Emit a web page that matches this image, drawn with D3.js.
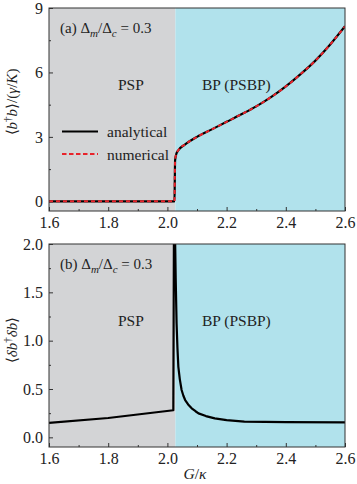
<!doctype html>
<html>
<head>
<meta charset="utf-8">
<title>phase diagram</title>
<style>
  body { margin: 0; background: #fff; }
  svg text { font-family: "Liberation Serif", "Times New Roman", serif; fill: #222; }
</style>
</head>
<body>
<div id="here"></div>
<script src="https://d3js.org/d3.v7.min.js"></script>
<script>
// ---- data ----
var gKappa = [1.6, 1.8, 2.0, 2.024, 2.025, 2.026, 2.03, 2.037, 2.06, 2.1, 2.15, 2.2, 2.25, 2.3, 2.35, 2.4, 2.45, 2.5, 2.55, 2.6];
var analytical = [0, 0, 0, 0, 1.0, 1.9, 2.2, 2.38, 2.65, 3.0, 3.35, 3.7, 4.05, 4.42, 4.85, 5.35, 5.92, 6.55, 7.3, 8.15];
var gKappaNum = [1.6, 1.7, 1.8, 1.9, 2.0, 2.024, 2.025, 2.026, 2.03, 2.037, 2.06, 2.1, 2.15, 2.2, 2.25, 2.3, 2.35, 2.4, 2.45, 2.5, 2.55, 2.6];
var numerical = [0, 0, 0, 0, 0, 0, 1.0, 1.9, 2.2, 2.38, 2.65, 3.0, 3.35, 3.7, 4.05, 4.42, 4.85, 5.35, 5.92, 6.55, 7.3, 8.15];

var gKappaFl = [1.6, 1.8, 2.02, 2.0225, 2.026, 2.028, 2.031, 2.034, 2.037, 2.042, 2.048, 2.054, 2.06, 2.07, 2.082, 2.095, 2.105, 2.13, 2.16, 2.2, 2.26, 2.33, 2.4, 2.6];
var fluct = [0.15, 0.2, 0.28, 2.5, 2.05, 1.65, 1.18, 0.92, 0.73, 0.6, 0.49, 0.43, 0.386, 0.34, 0.30, 0.27, 0.248, 0.22, 0.196, 0.178, 0.163, 0.159, 0.157, 0.155];

var phaseEdges = [1.6, 2.027, 2.6];
var phaseNames = ["PSP", "BP (PSBP)"];
var phaseColors = ["#d3d4d6", "#b1e2ec"];

var xTicks = [1.6, 1.8, 2.0, 2.2, 2.4, 2.6];
var xMinor = [1.7, 1.9, 2.1, 2.3, 2.5];
var yTicksA = [0, 3, 6, 9];
var yMinorA = [1.5, 4.5, 7.5];
var yTicksB = [0, 0.5, 1.0, 1.5, 2.0];
var yMinorB = [0.25, 0.75, 1.25, 1.75];

var W = 357, H = 484;
var left = 49, right = 345;

var svg = d3.select("#here").append("svg")
  .attr("width", W).attr("height", H);

var x = d3.scaleLinear().domain([1.6, 2.6]).range([left, right]);

function panel(top, bottom, ydom, yTicks, yMinor, fmt, id) {
  var y = d3.scaleLinear().domain(ydom).range([bottom, top]);
  var g = svg.append("g");

  // phase backgrounds
  g.selectAll("rect.phase")
    .data(phaseNames)
    .enter().append("rect")
    .attr("x", function(d, i) { return x(phaseEdges[i]); })
    .attr("width", function(d, i) { return x(phaseEdges[i + 1]) - x(phaseEdges[i]); })
    .attr("y", top).attr("height", bottom - top)
    .attr("fill", function(d, i) { return phaseColors[i]; });

  g.append("clipPath").attr("id", id)
    .append("rect").attr("x", left).attr("y", top)
    .attr("width", right - left).attr("height", bottom - top);

  // axes (ticks inward)
  var xa = g.append("g").attr("transform", "translate(0," + bottom + ")")
    .call(d3.axisBottom(x).tickValues(xTicks).tickSize(-4).tickPadding(6).tickFormat(d3.format(".1f")));
  var xm = g.append("g").attr("transform", "translate(0," + bottom + ")")
    .call(d3.axisBottom(x).tickValues(xMinor).tickSize(-2).tickFormat(""));
  var ya = g.append("g").attr("transform", "translate(" + left + ",0)")
    .call(d3.axisLeft(y).tickValues(yTicks).tickSize(-4).tickPadding(6).tickFormat(d3.format(fmt)));
  var ym = g.append("g").attr("transform", "translate(" + left + ",0)")
    .call(d3.axisLeft(y).tickValues(yMinor).tickSize(-2).tickFormat(""));
  [xa, xm, ya, ym].forEach(function(a) {
    a.select(".domain").remove();
    a.selectAll("line").attr("stroke", "#333");
    a.selectAll("text").style("font-size", "16px").attr("fill", "#222")
      .style("font-family", "Liberation Serif, serif");
  });

  // phase labels
  g.selectAll("text.phase")
    .data(phaseNames)
    .enter().append("text")
    .attr("class", "phase")
    .attr("x", function(d, i) { return i === 0 ? 118 : 202; })
    .attr("y", top + 82)
    .style("font-size", "15.5px")
    .text(function(d) { return d; });

  return { g: g, y: y };
}

function frame(top, bottom) {
  svg.append("rect").attr("x", left).attr("y", top)
    .attr("width", right - left).attr("height", bottom - top)
    .attr("fill", "none").attr("stroke", "#333").attr("stroke-width", 1);
}

function caption(g, lab, xx, yy) {
  var t = g.append("text").attr("x", xx).attr("y", yy).style("font-size", "15px");
  t.append("tspan").text(lab + "  \u0394");
  t.append("tspan").attr("dy", 4).style("font-style", "italic").style("font-size", "11px").text("m");
  t.append("tspan").attr("dy", -4).text("/\u0394");
  t.append("tspan").attr("dy", 4).style("font-style", "italic").style("font-size", "11px").text("c");
  t.append("tspan").attr("dy", -4).text(" = 0.3");
}

// ---- panel (a) ----
var pa = panel(8, 211, [-0.45, 9], yTicksA, yMinorA, "d", "clipA");
var lineA = d3.line().curve(d3.curveMonotoneX)
  .x(function(d) { return x(d[0]); }).y(function(d) { return pa.y(d[1]); });

pa.g.append("path")
  .attr("clip-path", "url(#clipA)")
  .attr("d", lineA(d3.zip(gKappa, analytical)))
  .attr("fill", "none").attr("stroke", "#000").attr("stroke-width", 2.2);
pa.g.append("path")
  .attr("clip-path", "url(#clipA)")
  .attr("d", lineA(d3.zip(gKappaNum, numerical)))
  .attr("fill", "none").attr("stroke", "#e8232b").attr("stroke-width", 2)
  .attr("stroke-dasharray", "4,3");
frame(8, 211);
caption(pa.g, "(a)", 60, 33);

// legend
var leg = pa.g.append("g");
leg.append("line").attr("x1", 62).attr("x2", 98).attr("y1", 131.5).attr("y2", 131.5)
  .attr("stroke", "#000").attr("stroke-width", 2.2);
leg.append("line").attr("x1", 62).attr("x2", 98).attr("y1", 154).attr("y2", 154)
  .attr("stroke", "#e8232b").attr("stroke-width", 2).attr("stroke-dasharray", "4.5,2.5");
leg.append("text").attr("x", 107).attr("y", 137).style("font-size", "15.5px").text("analytical");
leg.append("text").attr("x", 107).attr("y", 159.5).style("font-size", "15.5px").text("numerical");

// y label (a)
var yl = svg.append("text")
  .attr("transform", "translate(17,102) rotate(-90)")
  .attr("text-anchor", "middle").style("font-size", "15px");
yl.append("tspan").text("\u27E8");
yl.append("tspan").style("font-style", "italic").text("b");
yl.append("tspan").attr("dy", -6).style("font-size", "11px").text("\u2020");
yl.append("tspan").attr("dy", 6).style("font-style", "italic").text("b");
yl.append("tspan").text("\u27E9/(");
yl.append("tspan").style("font-style", "italic").text("\u03B3");
yl.append("tspan").text("/");
yl.append("tspan").style("font-style", "italic").text("K");
yl.append("tspan").text(")");

// ---- panel (b) ----
var pb = panel(244, 447, [-0.1, 2.0], yTicksB, yMinorB, ".1f", "clipB");
var lineB = d3.line()
  .x(function(d) { return x(d[0]); }).y(function(d) { return pb.y(d[1]); });
pb.g.append("path")
  .attr("clip-path", "url(#clipB)")
  .attr("d", lineB(d3.zip(gKappaFl, fluct)))
  .attr("fill", "none").attr("stroke", "#000").attr("stroke-width", 2.2)
  .attr("stroke-linejoin", "round");
frame(244, 447);
caption(pb.g, "(b)", 60, 269);

var yl2 = svg.append("text")
  .attr("transform", "translate(17,340) rotate(-90)")
  .attr("text-anchor", "middle").style("font-size", "15px");
yl2.append("tspan").text("\u27E8");
yl2.append("tspan").style("font-style", "italic").text("\u03B4b");
yl2.append("tspan").attr("dy", -6).style("font-size", "11px").text("\u2020");
yl2.append("tspan").attr("dy", 6).style("font-style", "italic").text("\u03B4b");
yl2.append("tspan").text("\u27E9");

// x label
var xl = svg.append("text").attr("x", 195).attr("y", 479)
  .attr("text-anchor", "middle").style("font-size", "15.5px");
xl.append("tspan").style("font-style", "italic").text("G");
xl.append("tspan").text("/");
xl.append("tspan").style("font-style", "italic").text("\u03BA");
</script>
</body>
</html>
